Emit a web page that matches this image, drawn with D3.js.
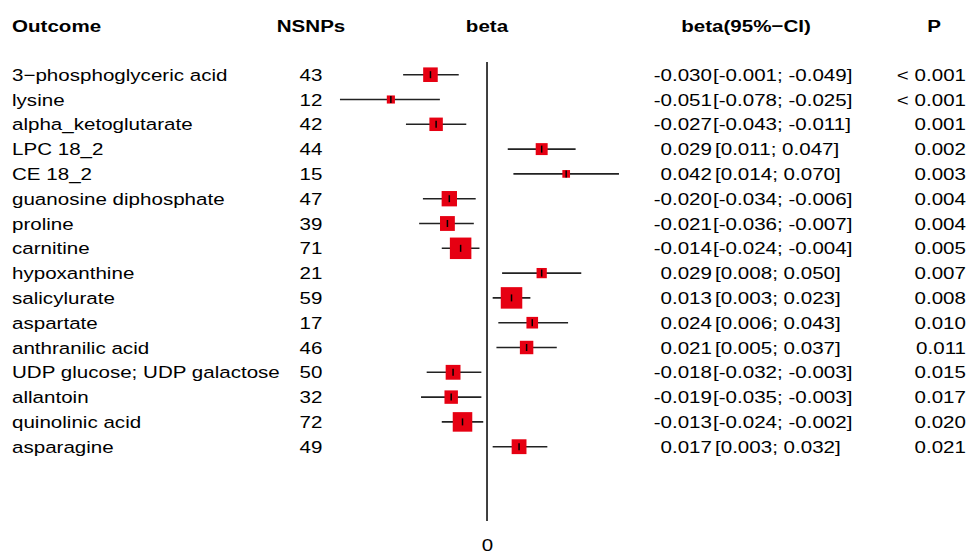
<!DOCTYPE html>
<html>
<head>
<meta charset="utf-8">
<script src="https://cdn.jsdelivr.net/npm/d3@7"></script>
<style>
  body { margin: 0; background: #fff; }
  text { font-family: "Liberation Sans", Arial, sans-serif; font-size: 17px; fill: #000; }
</style>
</head>
<body>
<svg id="forest"></svg>
<script>
// chart data
const outcomes = ['3\u2212phosphoglyceric acid', 'lysine', 'alpha_ketoglutarate', 'LPC 18_2', 'CE 18_2',
  'guanosine diphosphate', 'proline', 'carnitine', 'hypoxanthine', 'salicylurate', 'aspartate',
  'anthranilic acid', 'UDP glucose; UDP galactose', 'allantoin', 'quinolinic acid', 'asparagine'];
const nsnps = [43, 12, 42, 44, 15, 47, 39, 71, 21, 59, 17, 46, 50, 32, 72, 49];
const beta = [-0.030, -0.051, -0.027, 0.029, 0.042, -0.020, -0.021, -0.014, 0.029, 0.013, 0.024,
  0.021, -0.018, -0.019, -0.013, 0.017];
// interval ends as drawn (first row's drawn bar differs from its printed text)
const lower = [-0.0445, -0.078, -0.043, 0.011, 0.014, -0.034, -0.036, -0.024, 0.008, 0.003, 0.006,
  0.005, -0.032, -0.035, -0.024, 0.003];
const upper = [-0.015, -0.025, -0.011, 0.047, 0.070, -0.006, -0.007, -0.004, 0.050, 0.023, 0.043,
  0.037, -0.003, -0.003, -0.002, 0.032];
const ciText = ['[-0.001; -0.049]', '[-0.078; -0.025]', '[-0.043; -0.011]', '[0.011; 0.047]',
  '[0.014; 0.070]', '[-0.034; -0.006]', '[-0.036; -0.007]', '[-0.024; -0.004]', '[0.008; 0.050]',
  '[0.003; 0.023]', '[0.006; 0.043]', '[0.005; 0.037]', '[-0.032; -0.003]', '[-0.035; -0.003]',
  '[-0.024; -0.002]', '[0.003; 0.032]'];
const pText = ['< 0.001', '< 0.001', '0.001', '0.002', '0.003', '0.004', '0.004', '0.005', '0.007',
  '0.008', '0.010', '0.011', '0.015', '0.017', '0.020', '0.021'];
const headers = ['Outcome', 'NSNPs', 'beta', 'beta(95%\u2212CI)', 'P'];
const xTicks = [0];

const rows = outcomes.map((o, i) => ({
  outcome: o, n: nsnps[i], beta: beta[i], lo: lower[i], hi: upper[i], ci: ciText[i], p: pText[i]
}));

const width = 967, height = 553;
const stretch = 1.21; // the figure's text is drawn wider than it is tall

const svg = d3.select('#forest')
    .attr('width', width)
    .attr('height', height);

// scales
const x = d3.scaleLinear()
    .domain([-0.08, 0.075])
    .range([336.2, 628.4]);

const y = d3.scaleBand()
    .domain(d3.range(rows.length))
    .range([62.3, 459.1]);

const yc = i => y(i) + y.bandwidth() / 2;

// box side follows precision (1 / interval width)
const box = d3.scaleLinear()
    .domain([0, 50])
    .range([0, 21.5]);

function label(g, px, py, str, anchor, bold) {
  g.append('text')
      .attr('transform', 'translate(' + px + ',' + py + ') scale(' + stretch + ',1)')
      .attr('text-anchor', anchor)
      .style('font-weight', bold ? 'bold' : 'normal')
      .text(str);
}

// header row
const head = svg.append('g');
label(head, 12, 32, headers[0], 'start', true);
label(head, 311, 32, headers[1], 'middle', true);
label(head, x(0), 32, headers[2], 'middle', true);
label(head, 746, 32, headers[3], 'middle', true);
label(head, 934, 32, headers[4], 'middle', true);

// text columns
const cols = svg.append('g');
rows.forEach((d, i) => {
  const by = yc(i) + 6;
  label(cols, 12, by, d.outcome, 'start', false);
  label(cols, 311, by, d.n, 'middle', false);
  label(cols, 712, by, d.beta.toFixed(3), 'end', false);
  label(cols, d.beta < 0 ? 713 : 715, by, d.ci, 'start', false);
  label(cols, 966, by, d.p, 'end', false);
});

// reference line at zero
svg.append('line')
    .attr('x1', x(0)).attr('x2', x(0))
    .attr('y1', 62).attr('y2', 521)
    .attr('stroke', '#000')
    .attr('stroke-width', 1.5);

// x axis: only the tick label is shown
const axis = svg.append('g')
    .attr('transform', 'translate(0,534)')
    .call(d3.axisBottom(x).tickValues(xTicks).tickFormat(d3.format('d')).tickSize(0));
axis.select('.domain').remove();
axis.selectAll('.tick text')
    .attr('dy', null)
    .attr('y', 17)
    .attr('transform', 'scale(' + stretch + ',1)')
    .style('font-family', '"Liberation Sans", Arial, sans-serif')
    .style('font-size', '17px')
    .attr('fill', '#000');

// confidence intervals
const marks = svg.append('g');
marks.selectAll('line.ci')
    .data(rows)
    .enter()
    .append('line')
    .attr('class', 'ci')
    .attr('x1', d => x(d.lo))
    .attr('x2', d => x(d.hi))
    .attr('y1', (d, i) => yc(i))
    .attr('y2', (d, i) => yc(i))
    .attr('stroke', '#222')
    .attr('stroke-width', 1.6);

// boxes
marks.selectAll('rect')
    .data(rows)
    .enter()
    .append('rect')
    .attr('x', d => x(d.beta) - box(1 / (d.hi - d.lo)) / 2)
    .attr('y', (d, i) => yc(i) - box(1 / (d.hi - d.lo)) / 2)
    .attr('width', d => box(1 / (d.hi - d.lo)))
    .attr('height', d => box(1 / (d.hi - d.lo)))
    .attr('fill', '#e60012');

// point marker
marks.selectAll('line.pt')
    .data(rows)
    .enter()
    .append('line')
    .attr('class', 'pt')
    .attr('x1', d => x(d.beta))
    .attr('x2', d => x(d.beta))
    .attr('y1', (d, i) => yc(i) - 3.5)
    .attr('y2', (d, i) => yc(i) + 3.5)
    .attr('stroke', '#000')
    .attr('stroke-width', 1.5);
</script>
</body>
</html>
